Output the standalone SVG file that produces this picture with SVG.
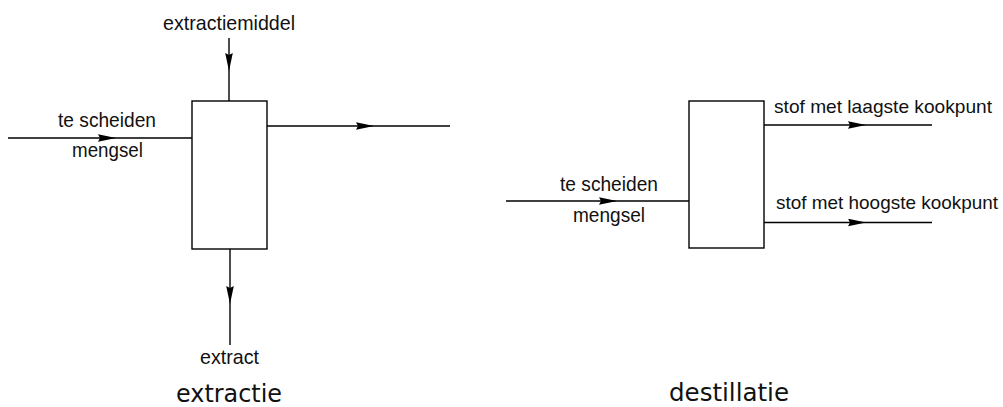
<svg xmlns="http://www.w3.org/2000/svg" width="1003" height="407" viewBox="0 0 1003 407">
  <style>
    .unit { fill: #ffffff; stroke: #000000; stroke-width: 1.4; }
    .flow { fill: none; stroke: #000000; stroke-width: 1.4; marker-mid: url(#arrow); }
    .lbl { font-family: "Liberation Sans", Arial, sans-serif; font-size: 21px; fill: #111111; }
    .lbl.long { font-size: 19px; }
    .title { font-family: "DejaVu Sans", "Liberation Sans", sans-serif; font-size: 24px; fill: #111111; text-anchor: middle; }
  </style>
  <defs>
    <marker id="arrow" markerUnits="userSpaceOnUse" markerWidth="20" markerHeight="10" refX="18" refY="4" orient="auto">
      <path d="M0,0.2 L18,4 L0,7.8 L2,4 Z" fill="#000000"/>
    </marker>
  </defs>

  <rect width="1003" height="407" fill="#ffffff"/>

  <!-- streams -->
  <g id="connectors">
    <!-- extraction -->
    <path class="flow" d="M229,38 L229,71 L229,101"/>
    <path class="flow" d="M8,138 L116,138 L192,138"/>
    <path class="flow" d="M267,126 L374,126 L450,126"/>
    <path class="flow" d="M230,249 L230,304 L230,345"/>
    <!-- distillation -->
    <path class="flow" d="M506,201 L617,201 L689,201"/>
    <path class="flow" d="M764,125 L866,125 L932,125"/>
    <path class="flow" d="M764,222.5 L866,222.5 L932,222.5"/>
  </g>

  <!-- extraction column -->
  <g id="extractor">
    <rect class="unit" x="192" y="101" width="75" height="148"/>
  </g>
  <g id="extractie-labels">
    <text class="lbl" x="163" y="30" textLength="132" lengthAdjust="spacingAndGlyphs">extractiemiddel</text>
    <text class="lbl" x="58" y="127" textLength="98" lengthAdjust="spacingAndGlyphs">te scheiden</text>
    <text class="lbl" x="72" y="157" textLength="71" lengthAdjust="spacingAndGlyphs">mengsel</text>
    <text class="lbl" x="200" y="364" textLength="59" lengthAdjust="spacingAndGlyphs">extract</text>
    <text class="title" x="229" y="402" textLength="106" lengthAdjust="spacingAndGlyphs">extractie</text>
  </g>

  <!-- distillation column -->
  <g id="distiller">
    <rect class="unit" x="689" y="101" width="75" height="147"/>
  </g>
  <g id="destillatie-labels">
    <text class="lbl" x="560" y="191" textLength="98" lengthAdjust="spacingAndGlyphs">te scheiden</text>
    <text class="lbl" x="573" y="222" textLength="72" lengthAdjust="spacingAndGlyphs">mengsel</text>
    <text class="lbl long" x="774" y="113" textLength="218" lengthAdjust="spacingAndGlyphs">stof met laagste kookpunt</text>
    <text class="lbl long" x="776" y="209" textLength="222" lengthAdjust="spacingAndGlyphs">stof met hoogste kookpunt</text>
    <text class="title" x="729" y="401" textLength="120" lengthAdjust="spacingAndGlyphs">destillatie</text>
  </g>
</svg>
